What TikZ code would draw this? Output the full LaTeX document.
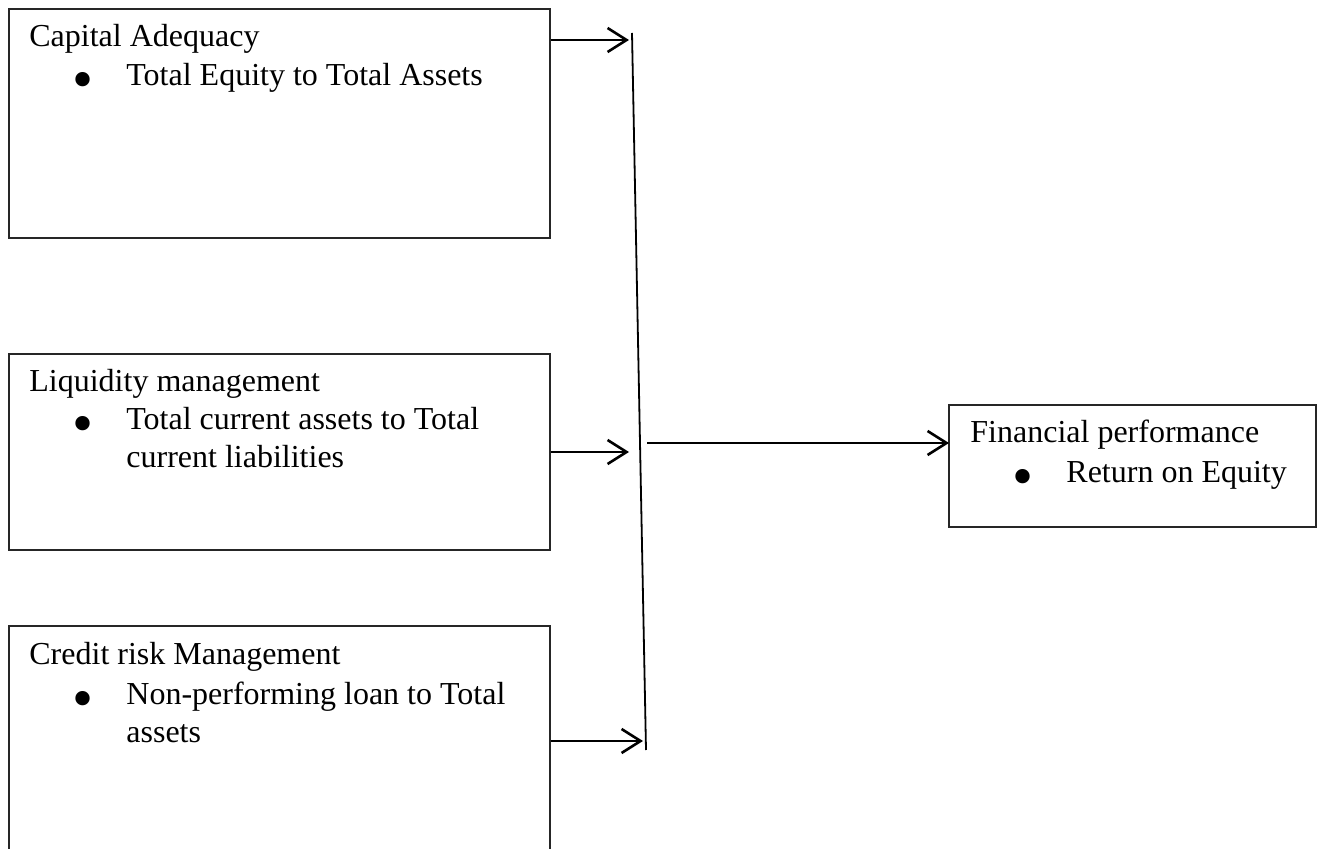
\documentclass[tikz,border=0pt]{standalone}
\usepackage{fontspec}
\setmainfont{Liberation Serif}
\usetikzlibrary{arrows.meta}
\begin{document}
\begin{tikzpicture}[x=0.5pt,y=-0.5pt,
  boxstyle/.style={draw=black!85, line width=0.85pt, inner sep=0pt},
  txt/.style={anchor=base west, inner sep=0pt, font=\fontsize{16}{19}\selectfont, align=left},
  bul/.style={anchor=base, inner sep=0pt, font=\fontsize{30}{30}\selectfont},
  conn/.style={line width=1.3pt, -{Straight Barb[length=9.5pt,width=12pt,line width=1.3pt]}},
  bar/.style={line width=0.9pt}]
\useasboundingbox (0,0) rectangle (1322,849);
\clip (0,0) rectangle (1322,849);
% boxes
\draw[boxstyle] (9,9) rectangle (550,238);
\node[inner sep=0pt, minimum width=270.5pt, minimum height=114.5pt, anchor=north west] (capbox) at (9,9) {};
\draw[boxstyle] (9,354) rectangle (550,550);
\node[inner sep=0pt, minimum width=270.5pt, minimum height=98pt, anchor=north west] (liqbox) at (9,354) {};
\draw[boxstyle] (9,626) rectangle (550,880);
\node[inner sep=0pt, minimum width=270.5pt, minimum height=127pt, anchor=north west] (crebox) at (9,626) {};
\draw[boxstyle] (949,405) rectangle (1316,527);
\node[inner sep=0pt, minimum width=183.5pt, minimum height=61pt, anchor=north west] (finbox) at (949,405) {};
% texts
\node[txt] (t1) at (29,47) {Capital Adequacy};
\node[bul] (b1) at (83,100) {•};
\node[txt] (t1b) at (126,86) {Total Equity to Total Assets};
\node[txt] (t2) at (29,392) {Liquidity management};
\node[bul] (b2) at (83,444) {•};
\node[txt] (t2b) at (126,468) {Total current assets to Total\\current liabilities};
\node[txt] (t3) at (29,664) {Credit risk Management};
\node[bul] (b3) at (83,718) {•};
\node[txt] (t3b) at (126,742) {Non-performing loan to Total\\assets};
\node[txt] (t4) at (970,443) {Financial performance};
\node[bul] (b4) at (1023,497) {•};
\node[txt] (t4b) at (1066,483) {Return on Equity};
% collector line
\coordinate (top) at (632,33);
\coordinate (bot) at (646,750);
\draw[bar] (top) -- (bot);
\coordinate (a1) at (629,40);
\coordinate (a2) at (629,452);
\coordinate (a3) at (643,741);
\coordinate (m) at (647,443);
\draw[conn] (capbox.east |- a1) -- (a1);
\draw[conn] (liqbox.east |- a2) -- (a2);
\draw[conn] (crebox.east |- a3) -- (a3);
\draw[conn] (m) -- (finbox.west |- m);
\end{tikzpicture}
\end{document}
